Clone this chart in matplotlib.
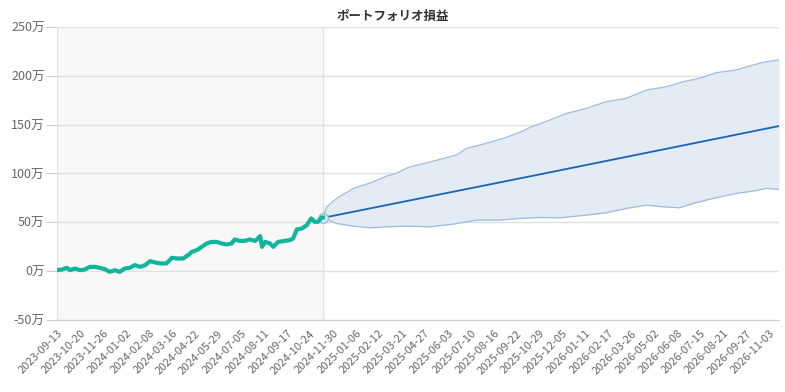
import matplotlib
matplotlib.use("Agg")
import matplotlib.pyplot as plt
import pandas as pd

plt.rcParams['font.family'] = ['Noto Sans CJK JP', 'DejaVu Sans']

# データ (起点日からの日数, 万円)
start = pd.Timestamp("2023-09-13")

hist_day = [0, 8, 16, 21, 29, 37, 45, 53, 61, 69, 77, 85, 93, 101, 109, 117,
            125, 134, 142, 150, 158, 166, 176, 185, 193, 203, 211, 217, 225,
            233, 241, 249, 257, 265, 273, 281, 286, 294, 302, 310, 319, 327,
            330, 335, 343, 348, 356, 367, 375, 380, 386, 394, 402, 409, 415,
            420, 426, 428]
hist_val = [1, 1.7, 3.4, 1, 2.7, 1, 1.7, 4.4, 4.4, 3.4, 2, -0.7, 1, -0.7, 2.7,
            3.4, 6.2, 4.4, 6.2, 10.3, 8.9, 7.9, 7.9, 13.7, 13, 13, 16.4, 19.8,
            21.5, 24.9, 28.4, 30, 30, 28.4, 27.3, 28.4, 32.5, 31, 31, 32.5, 31,
            35.9, 24.9, 30, 28.4, 24.9, 30, 31, 31.8, 33.5, 42.7, 43.7, 47.1,
            54, 50.5, 50.5, 55, 55]

mean_day = [428, 777, 1162]
mean_val = [54.6, 99.1, 148.6]

upper_day = [428, 434, 450, 477, 493, 509, 530, 546, 565, 595, 616, 643, 659,
             686, 718, 745, 761, 793, 820, 852, 884, 916, 949, 981, 1008, 1034,
             1061, 1093, 1120, 1142, 1162]
upper_val = [54.6, 65.9, 74.5, 84.7, 88.1, 91.5, 97.3, 100.1, 106.2, 111,
             114.4, 118.9, 125.7, 130.1, 135.9, 142.1, 147.2, 154.7, 161.5,
             166.7, 173.5, 176.9, 185.5, 188.9, 194, 197.5, 203.2, 206, 211.1,
             214.5, 216.2]

lower_day = [428, 450, 477, 504, 530, 563, 600, 638, 675, 713, 745, 777, 809,
             852, 884, 916, 949, 975, 1002, 1024, 1056, 1093, 1120, 1142, 1162]
lower_val = [54.6, 48.8, 46.1, 44.4, 45.4, 46.1, 45.4, 48.2, 52.3, 52.3, 54,
             55, 54.6, 57.4, 59.8, 64.2, 67.6, 65.9, 64.9, 69.4, 74.5, 79.6, 82,
             84.7, 83.7]

tick_step = 37
n_ticks = 32
y_ticks = [-50, 0, 50, 100, 150, 200, 250]


def to_dates(days):
    return [start + pd.Timedelta(days=d) for d in days]


fig = plt.figure(figsize=(7.85, 3.92), dpi=100)
ax = fig.add_axes([57 / 785, 72 / 392, 722 / 785, 293 / 392])

x_end = start + pd.Timedelta(days=upper_day[-1])
hist_end = start + pd.Timedelta(days=hist_day[-1])

# 実績期間の背景
ax.axvspan(start, hist_end, color="#f8f8f8", zorder=0)
ax.axvline(start, color="#e3e3e3", lw=1, zorder=1)
ax.axvline(hist_end, color="#e3e3e3", lw=1, zorder=1)

for v in y_ticks:
    ax.axhline(v, color="#e0e0e0", lw=1, zorder=1)

# 予測の帯
ud = to_dates(upper_day)
ld = to_dates(lower_day)
band = pd.DataFrame({"u": pd.Series(upper_val, index=ud),
                     "l": pd.Series(lower_val, index=ld)})
band = band.interpolate(method="time")
ax.fill_between(band.index, band["l"], band["u"], color="#e3ebf5", lw=0, zorder=2)
ax.plot(ud, upper_val, color="#9bbbe0", lw=0.9, zorder=3)
ax.plot(ld, lower_val, color="#9bbbe0", lw=0.9, zorder=3)
ax.plot(to_dates(mean_day), mean_val, color="#1a64b4", lw=1.3, zorder=4)

# 実績
ax.plot(to_dates(hist_day), hist_val, color="#12b59c", lw=3, zorder=5)
ax.plot([hist_end], [mean_val[0]], "o", ms=7, mfc="#e3ebf5", mec="#9bbbe0",
        mew=1, zorder=4)

ax.set_xlim(start, x_end)
ax.set_ylim(-50, 250)

ticks = [start + pd.Timedelta(days=tick_step * i) for i in range(n_ticks)]
ax.set_xticks(ticks)
ax.set_xticklabels([t.strftime("%Y-%m-%d") for t in ticks], rotation=45,
                   ha="right", rotation_mode="anchor", fontsize=8, color="#666666")
ax.tick_params(axis="x", length=0, pad=6)

ax.set_yticks(y_ticks)
ax.set_yticklabels([f"{v}万" for v in y_ticks], fontsize=9, color="#666666")
ax.tick_params(axis="y", length=8, color="#cccccc", pad=1)

for s in ["top", "right", "left"]:
    ax.spines[s].set_visible(False)
ax.spines["bottom"].set_color("#cccccc")

fig.text(0.5, 0.975, "ポートフォリオ損益", ha="center", va="top",
         fontsize=9, fontweight="bold", color="#333333")

fig.savefig("out.png", dpi=100)
